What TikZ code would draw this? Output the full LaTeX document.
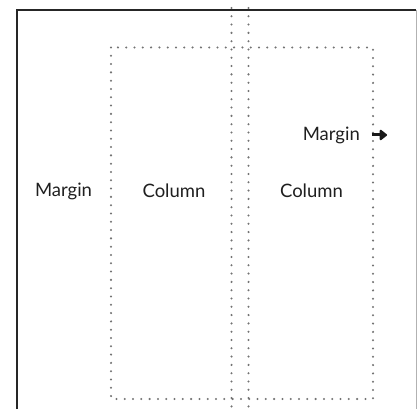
\documentclass[tikz,border=0pt]{standalone}
\usepackage{fontspec}
\setmainfont{Lato}
\usetikzlibrary{arrows.meta}
\begin{document}
\begin{tikzpicture}[x=1pt,y=1pt,
  dotline/.style={draw=black!55, line width=2.3pt, line cap=round, dash pattern=on 0pt off 8.3pt},
  lbl/.style={inner sep=0pt, font=\fontsize{18.5}{22}\selectfont, text=black!88},
  bigarrow/.style={draw=black!90, line width=3pt, -{Triangle[length=8pt,width=12pt,round]}}]
\useasboundingbox (0,0) rectangle (417,409);
% page frame
\coordinate (tl) at (17,399);
\coordinate (tr) at (416,399);
\coordinate (bl) at (17,0);
\coordinate (br) at (416,0);
\draw[gray!60, line width=0.8pt] (tr) -- (br);
\draw[black!85, line width=2.4pt] (bl) -- (tl) -- (tr);
% column area
\coordinate (c1) at (111,361.5);
\coordinate (c2) at (373,10);
\draw[dotline] (c1) rectangle (c2);
\coordinate (g1t) at (231.5,401);
\coordinate (g1b) at (231.5,0);
\coordinate (g2t) at (248.5,401);
\coordinate (g2b) at (248.5,0);
\draw[dotline] (g1t) -- (g1b);
\draw[dotline] (g2t) -- (g2b);
% labels
\node[lbl] (m1) at (63.5,218) {Margin};
\node[lbl] (col1) at (174,218) {Column};
\node[lbl] (col2) at (311.5,218) {Column};
\node[lbl, anchor=east] (m2) at (360,274) {Margin};
\coordinate (a1) at (371.5,274);
\coordinate (a2) at (387,274);
\draw[bigarrow] (a1) -- (a2);
\end{tikzpicture}
\end{document}
